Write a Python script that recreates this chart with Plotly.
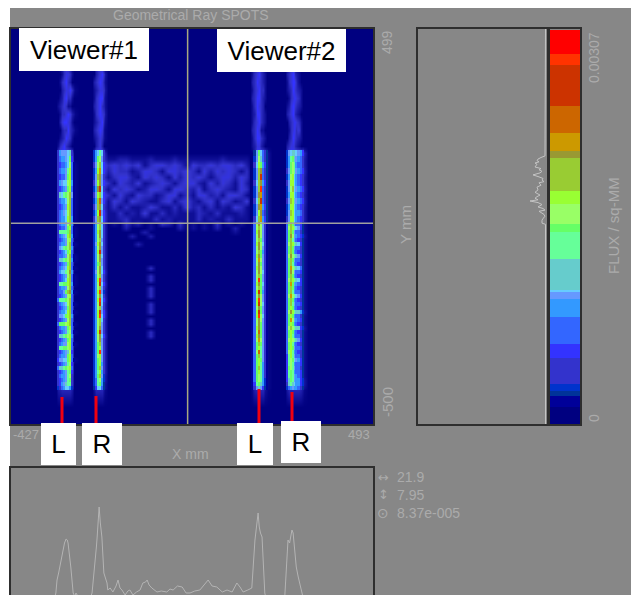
import plotly.graph_objects as go

W, H = 631, 595
GRAY = "#878787"
TEXT = "#ABABAB"
FRAME = "#2E2E2E"

# ---- colour levels (bottom to top of the flux bar)
level_colors = ["#000080", "#000099", "#003399", "#0033CC", "#3333CC", "#3333FF", "#3366FF", "#3399FF",
                "#6699FF", "#66CCFF", "#66CCCC", "#66FF99", "#66FF66", "#99FF66", "#99FF33", "#99CC33",
                "#999933", "#CC9900", "#CC6600", "#CC3300", "#FF3300", "#FF0000"]
level_heights = [1.33e-4, 8.6e-5, 3.9e-5, 5.5e-5, 2.04e-4, 1.10e-4, 2.11e-4, 1.41e-4,
                 5.5e-5, 1.6e-5, 2.43e-4, 2.11e-4, 6.3e-5, 1.57e-4, 1.02e-4, 2.58e-4,
                 5.5e-5, 1.41e-4, 2.11e-4, 3.21e-4, 8.6e-5, 1.88e-4]
FLUX_MAX = 0.00309

# ---- heat map cell edges (mm)
x_edges = [-427, -325, -315,
           -310, -305, -300, -294, -289, -284, -279, -274, -269, -264,
           -244, -223,
           -218, -213, -208, -203, -198, -193, -187,
           -172, -157, -142, -126, -111, -96, -80, -65, -50, -35, -19, -4, 11, 27, 42, 57, 72, 88, 103, 118,
           134, 149, 164, 179,
           184, 189, 195, 200, 205, 210, 215, 220, 225,
           246, 266,
           271, 276, 281, 286, 291, 296, 301, 307, 312, 317,
           337, 493]
y_edges = [499, 395, 375, 354, 334, 314, 294, 273, 253, 233, 213, 193,
           178, 163, 147, 132, 117, 102, 87, 72, 56, 41, 26, 11,
           1, -9, -19, -30, -40, -50, -60, -70, -80, -90, -100, -111, -121, -131, -141,
           -151, -161, -171, -181, -192, -202, -212, -222, -232, -242, -252, -262, -273,
           -283, -293, -303, -313, -323, -333, -343, -354, -364, -374, -384, -394, -404, -414, -500]

# ---- heat map levels, base-36 digit = colour level, one string per row from the top
band_L1 = ["0012332100",
  "0001344310", "0013453200", "0002344531", "0012453310", "0123431100",
  "0013345421", "0024554310", "0002335321", "0012354310", "0134532100",
  "0478889a40", "0467789c50", "0456679d61", "046778be61", "045668ce61", "047899de71",
  "045678ce61", "04a9bcdf81", "046779df61", "045678ef61", "046789df61", "046779ef71",
  "046778df70", "045668ce61", "04bbbbcf61", "046789ef71", "045678de60", "046778df61",
  "0489bcdf70", "045679ce60", "046678df61", "04aabcdf71", "045678cf60", "046789ef61",
  "04799bdg70", "045678df61", "045679ef61", "04bbccef71", "046778df60", "04668cfg71",
  "045678de60", "06bbbcdf60", "046789df61", "045678cf60", "046779ef61", "04889cef70",
  "045678df60", "06cccdef61", "046778ce60", "045678bd61", "04aabcde70", "045678ce60",
  "046788de61", "04bbccde60", "045678ad50", "046778ce60", "058899ce61", "045678bd50",
  "06aabcde60", "045678bc50", "046778bd40", "045678bc40", "04578abb40", "0346799730",
  "0000000000"]
band_R1 = ["0023320",
  "0023453", "0234542", "0123443", "0134552", "0234532",
  "0134543", "0123452", "0234541", "0123431", "0023420",
  "0379b94", "037cd84", "048df95", "037eh95", "038fg84", "048eg85",
  "037gj94", "048ef95", "037fi85", "048fg94", "037ej85", "048fg95",
  "037df94", "037df94", "037eg94", "037dg94", "037df84", "038eg94",
  "037dg84", "037ej84", "037dg94", "037dg84", "037cf84", "037dg94",
  "038dg95", "037df84", "037ek84", "037dj95", "037df84", "037ek83",
  "037dg94", "037ek95", "037dj94", "037df84", "037ej85", "037ek95",
  "037df94", "037df84", "037dg84", "037ej84", "037dg95", "037dg84",
  "037cf84", "037ce84", "037ck84", "037de84", "037ce84", "037ce74",
  "037cf84", "037be74", "037cf83", "036bd73", "036bc72", "0259962",
  "0000000"]
band_L2 = ["012332100",
  "013453210", "023543210", "013453310", "023553210", "013543200",
  "012553210", "013453210", "023541100", "013553210", "012442100",
  "0028c9642", "0038da642", "0049ec752", "0038fg642", "0038fj642", "0049fg752",
  "0038fk642", "0038gh642", "0049fj642", "0038gh752", "0038eg642", "0049fh752",
  "016dgd841", "016dfd841", "016egd841", "016dgd841", "016dfc841", "016egd941",
  "016dgd841", "016dfc741", "016egc841", "016dhd841", "016dgc841", "016egd841",
  "016dgd941", "016dfc841", "016dkc841", "016egc941", "016dfc841", "016ejc741",
  "016dgd841", "016ekd841", "016ejd941", "016dgc841", "016ejc841", "016ekd941",
  "016dgd841", "016dgc841", "016egc841", "016dic841", "016egc841", "016dhd841",
  "016cfc841", "016ceb841", "016dib841", "016cfb841", "016cec841", "016ceb741",
  "016cfb741", "016ceb741", "016cdb741", "016cdb731", "015bca731", "0148a8521",
  "000000000"]
band_R2 = ["0023320000",
  "0234532100", "0134553100", "0123543210", "0013454310", "0124543210",
  "0234532100", "0023454310", "0013453410", "0023543210", "0234432100",
  "0389aa9875", "037bca8764", "037cdb7664", "048cdb8765", "037de97654", "048ee97654",
  "038df98765", "037ee97654", "048fea8765", "037ee97654", "038fe97764", "048ee97654",
  "06cfc86652", "06dfeb9852", "06cfc86642", "06cgd87653", "06cfb86542", "06dfeba952",
  "06cfc86642", "06cfc76542", "06dgdba852", "06cfc86642", "06cfb76542", "06chdba962",
  "06cgd86652", "06cfc76542", "06dfeba952", "06chc87652", "06cfc76542", "06cfb76642",
  "06dhdb9852", "06cfc76542", "06cfb86652", "06cec76542", "06dgebaa73", "06cec76642",
  "06chd87652", "06cec76542", "06dfdbaa53", "06cec76542", "06ceb76642", "06dedba852",
  "06ceb76542", "06cec86652", "06deb76542", "05beb86642", "05bdc98752", "05bdb76652",
  "05cdb86642", "05bcb76652", "05bcb87652", "05acb87753", "04aba97753", "0367877642",
  "0000000000"]
spk_blank = "000000000000000000000000"
spk_dots = "000000030000000000000000"
speckle = [spk_blank] * 11 + [
  "000000000000000000000000", "112211121112111111121111", "343434134434314334344342",
  "243312443144343142434313", "134421434314243431344243", "314324123431344214243142",
  "143431244314432413432143", "314214331244131442314431", "143143211341342134143124",
  "131311243113142313121431", "113121411312111321311121", "112311113121111312113111",
  "010312010320301010301010", "000200010000201010200200", "000000200000000000000100",
  "000020020000000000000000", spk_blank, "000002000000000000000000", spk_blank, spk_blank,
  spk_blank, spk_blank, spk_blank,
  spk_dots, spk_blank, spk_dots, spk_dots, spk_blank, spk_dots, spk_dots, spk_dots, spk_blank,
  spk_dots, spk_dots, spk_dots, spk_blank, spk_dots, spk_dots, spk_blank, spk_dots, spk_dots,
  spk_blank, spk_blank, spk_blank, spk_blank, spk_blank, spk_blank, spk_blank, spk_blank,
  spk_blank, spk_blank, spk_blank, spk_blank, spk_blank, spk_blank]

# ---- crosshair position (mm), also read out beside the lower plot
cross_x = 21.9
cross_y = 7.95

# ---- profile along X (lower plot); the axis bottom sits on the page edge
prof_x = [-427, -320, -313, -310, -306, -302, -298, -295, -291, -287, -284, -282, -279, -275, -269, -264, -262, -257, -250,
          -230, -221, -214, -210, -208, -205, -203, -200, -196, -191, -183, -181, -175, -168, -160, -155, -150, -145,
          -137, -130, -125, -117, -108, -99, -92, -85, -81, -76, -69, -56, -45, -31, -23, -15, -4, 8, 18, 28, 40, 53,
          64, 74, 84, 96, 110, 122, 135, 147, 155, 163, 175, 185, 193, 197, 201, 204, 207, 211, 218, 224,
          262, 269, 277, 281, 285, 287, 290, 295, 298, 303, 307, 315, 325, 493]
prof_y = [-8, -8, 2, 15, 22, 30, 36, 45, 52, 56, 55, 52, 42, 28, 2, -2, 2, -1, -8,
          -8, 2, 28, 48, 58, 74, 88, 72, 58, 22, 12, 5, 7, 3, 9, 15, 7, 5,
          0, 4, 5, 0, 3, 5, 12, 13, 15, 10, 7, 3, 4, 3, 6, 5, 9, 8, 2, 2, 4, 5,
          10, 15, 9, 8, 3, 5, 3, 12, 8, 3, 5, 7, 55, 72, 82, 68, 62, 58, 2, -8,
          -8, 0, 55, 52, 60, 65, 62, 38, 28, 18, 10, -2, -8, -8]

# ---- profile along Y (right plot), distance from the baseline
vprof_y = [499, 182, 178, 174, 170, 166, 163, 160, 157, 150, 146, 143, 139, 135, 130, 125, 121, 117, 113, 110, 104,
           99, 92, 86, 79, 75, 71, 67, 64, 60, 55, 49, 45, 41, 38, 30, 25, 20, 15, 8, 5, -500]
vprof_v = [1.5, 1.5, 2, 6, 9, 10, 8, 12, 10, 12, 6, 8, 5, 7, 14, 8, 4, 5, 3, 8, 6,
           10, 9, 12, 7, 10, 12, 9, 17, 9, 5, 9, 4, 2, 8, 3, 2, 4, 5, 5, 1.5, 1.5]
VPROF_MAX = 129
PROF_MAX = 127

# ---- text
tick_x = [-427, 493]
tick_y = [499, -500]
SOFT_TOP = 5


def px(v):
    return v / W


def py(v):
    return (H - v) / H


def soft_digits(row):
    return [min(int(c, 36), SOFT_TOP) for c in row]


def sharp_digits(row):
    return [None if c == "0" or c == "." else int(c, 36) + 0.5 for c in row]


z_soft = []
z_sharp = []
for a, b, s, c, d in zip(band_L1, band_R1, speckle, band_L2, band_R2):
    z_soft.append(soft_digits("00" + a + "00" + b + s + c + "00" + d + "00"))
    z_sharp.append(sharp_digits(".." + a + ".." + b + "." * 24 + c + ".." + d + ".."))
n_levels = len(level_colors)
scale = []
for i, col in enumerate(level_colors):
    scale += [[i / n_levels, col], [(i + 1) / n_levels, col]]

fig = go.Figure()
# faint scatter: a soft navy-to-violet ramp, so no contour rings appear between the low levels
fig.add_trace(go.Heatmap(x=x_edges, y=y_edges[::-1], z=z_soft[::-1], zmin=0, zmax=SOFT_TOP,
                         colorscale=[[0, level_colors[0]], [0.7, level_colors[4]], [1, level_colors[5]]],
                         showscale=False, hoverinfo="skip", xaxis="x", yaxis="y", zsmooth="best"))
# the bright band rows carry thin streaks, so they are drawn cell by cell on top
fig.add_trace(go.Heatmap(x=x_edges, y=y_edges[11:66][::-1], z=z_sharp[11:65][::-1], zmin=0, zmax=n_levels,
                         colorscale=scale, showscale=False, hoverinfo="skip", xaxis="x", yaxis="y"))
fig.add_trace(go.Scatter(x=[cross_x, cross_x], y=[tick_y[1], tick_y[0]], mode="lines",
                         line=dict(color="#A8A880", width=1.5), xaxis="x", yaxis="y", showlegend=False))
fig.add_trace(go.Scatter(x=tick_x, y=[cross_y, cross_y], mode="lines",
                         line=dict(color="#A0A0A0", width=1.5), xaxis="x", yaxis="y", showlegend=False))
fig.add_trace(go.Scatter(x=prof_x, y=prof_y, mode="lines", line=dict(color="#B4B4B4", width=1),
                         xaxis="x2", yaxis="y2", showlegend=False))
fig.add_trace(go.Scatter(x=vprof_v, y=vprof_y, mode="lines", line=dict(color="#C4C4C4", width=1),
                         xaxis="x3", yaxis="y3", showlegend=False))
for col, h in zip(level_colors, level_heights):
    fig.add_trace(go.Bar(x=[0], y=[h], width=1, marker=dict(color=col, line=dict(width=0)),
                         xaxis="x4", yaxis="y4", showlegend=False, hoverinfo="skip"))

frame = dict(showgrid=False, zeroline=False, showticklabels=False, ticks="", showline=True,
             linecolor=FRAME, linewidth=2, mirror=True)
top, bottom = py(29), py(424)

shapes = [dict(type="rect", xref="paper", yref="paper", x0=px(10), x1=1, y0=0, y1=py(8),
               fillcolor=GRAY, line=dict(width=0), layer="below")]
for x0, y0, y1 in [(62, 397, 424), (96, 396, 424), (259, 389, 423), (292, 392, 423)]:
    shapes.append(dict(type="line", xref="paper", yref="paper", x0=px(x0), x1=px(x0), y0=py(y0), y1=py(y1),
                       line=dict(color="#F00010", width=3)))


def label(text, x, y, size=14, **kw):
    base = dict(text=text, xref="paper", yref="paper", x=px(x), y=py(y), showarrow=False,
                font=dict(family="Liberation Sans", size=size, color=TEXT), xanchor="center", yanchor="middle")
    base.update(kw)
    return base


def box(text, x0, x1, y0, y1, size):
    return label(text, (x0 + x1) / 2, (y0 + y1) / 2, width=x1 - x0, height=y1 - y0, bgcolor="white",
                 borderpad=0, borderwidth=0, align="center", valign="middle",
                 font=dict(family="Liberation Sans", size=size, color="black"))


annotations = [
    label("Geometrical Ray SPOTS", 191, 15),
    label(str(tick_x[0]), 11, 434, size=13, xanchor="left"),
    label(str(tick_x[1]), 372, 434, size=13, xanchor="right"),
    label("X mm", 190, 454),
    label(str(tick_y[0]), 387, 42, textangle=-90),
    label(str(tick_y[1]), 387, 402, size=15, textangle=-90),
    label("Y mm", 405, 225, size=15, textangle=-90),
    label("0.00307", 594, 58, textangle=-90),
    label("0", 594, 418, textangle=-90),
    label("FLUX / sq-MM", 613, 226, size=15, textangle=-90),
    label("↔", 383, 477, font=dict(family="DejaVu Sans", size=13, color=TEXT)),
    label("↕", 383, 495, font=dict(family="DejaVu Sans", size=13, color=TEXT)),
    label("⊙", 383, 513, font=dict(family="DejaVu Sans", size=14, color=TEXT)),
    label(str(cross_x), 395, 477, xanchor="left"),
    label(str(cross_y), 395, 495, xanchor="left"),
    label("8.37e-005", 395, 513, xanchor="left"),
    box("Viewer#1", 19, 149, 28, 71, 26),
    box("Viewer#2", 217, 346, 29, 72, 26),
    box("L", 41, 76, 423, 465, 26),
    box("R", 82, 122, 423, 465, 26),
    box("L", 237, 273, 423, 465, 26),
    box("R", 281, 321, 421, 463, 26),
]

fig.update_layout(
    width=W, height=H, margin=dict(l=0, r=0, t=0, b=0, pad=0), autosize=False,
    paper_bgcolor="white", plot_bgcolor="rgba(0,0,0,0)", barmode="stack", bargap=0,
    showlegend=False, shapes=shapes, annotations=annotations,
    xaxis=dict(domain=[px(11), px(373)], range=tick_x, anchor="y", **frame),
    yaxis=dict(domain=[bottom, top], range=tick_y[::-1], anchor="x", **frame),
    xaxis2=dict(domain=[px(11), px(373)], range=tick_x, anchor="y2", **frame),
    yaxis2=dict(domain=[0, py(468)], range=[0, PROF_MAX], anchor="x2", **frame),
    xaxis3=dict(domain=[px(418), px(547)], range=[VPROF_MAX, 0], anchor="y3", **frame),
    yaxis3=dict(domain=[bottom, top], range=tick_y[::-1], anchor="x3", **frame),
    xaxis4=dict(domain=[px(550), px(580)], range=[-0.5, 0.5], anchor="y4", **frame),
    yaxis4=dict(domain=[bottom, top], range=[0, FLUX_MAX], anchor="x4", **frame),
)
fig.write_html("out.html", config={"displayModeBar": False},
               post_script="document.documentElement.style.overflow='hidden';document.body.style.margin='0';")
